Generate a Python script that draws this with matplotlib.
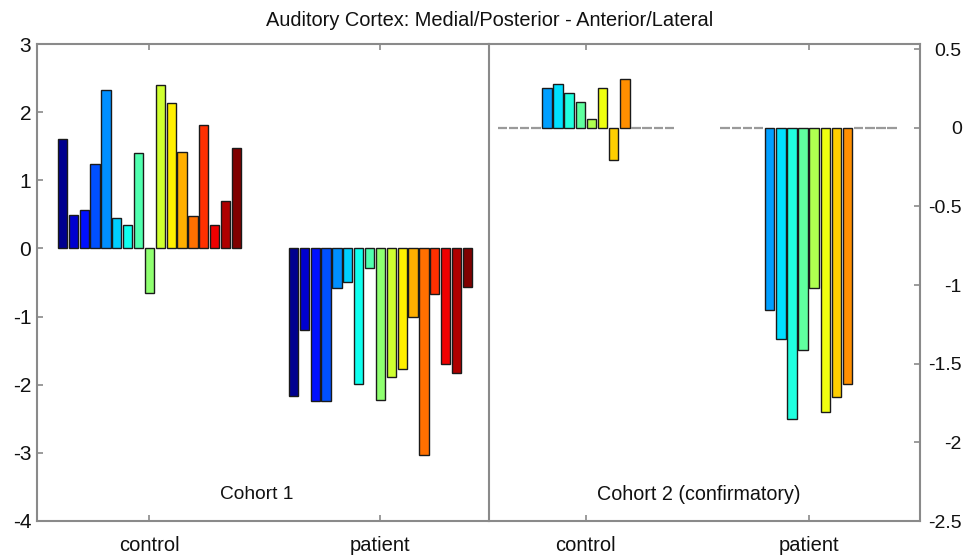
import matplotlib
matplotlib.use("Agg")
import matplotlib.pyplot as plt
import numpy as np

plt.rcParams['font.family'] = ['Liberation Sans', 'DejaVu Sans']

# ---------------- data ----------------
title = "Auditory Cortex: Medial/Posterior - Anterior/Lateral"
groups = ["control", "patient"]

cohort1_control = [1.60, 0.49, 0.57, 1.24, 2.33, 0.45, 0.34, 1.40, -0.66,
                   2.40, 2.13, 1.41, 0.48, 1.81, 0.34, 0.69, 1.48]
cohort1_patient = [-2.16, -1.19, -2.24, -2.24, -0.58, -0.49, -1.99, -0.28, -2.23,
                   -1.89, -1.77, -1.01, -3.03, -0.67, -1.69, -1.83, -0.56]

cohort2_control = [0, 0, 0, 0, 0.254, 0.28, 0.22, 0.165, 0.055, 0.25, -0.205, 0.31,
                   0, 0, 0, 0]
cohort2_patient = [0, 0, 0, 0, -1.16, -1.34, -1.85, -1.41, -1.02, -1.81, -1.71, -1.63,
                   0, 0, 0, 0]

left_ticks = [-4, -3, -2, -1, 0, 1, 2, 3]
right_ticks = [-2.5, -2, -1.5, -1, -0.5, 0, 0.5]
right_tick_labels = ["-2.5", "-2", "-1.5", "-1", "-0.5", "0", "0.5"]


# ---------------- colour map (classic 64-entry jet) ----------------
def jet_table(n=64):
    m = int(np.ceil(n / 4))
    u = np.concatenate([np.arange(1, m + 1) / m, np.ones(m - 1), np.arange(m, 0, -1) / m])
    g = int(np.ceil(m / 2)) - (1 if n % 4 == 1 else 0) + np.arange(1, len(u) + 1)
    r = g + m
    b = g - m
    J = np.zeros((n, 3))
    for col, idx in ((0, r), (1, g), (2, b)):
        ok = (idx >= 1) & (idx <= n)
        J[idx[ok] - 1, col] = u[ok]
    return J


JET = jet_table(64)


def series_color(i, n):
    k = int(np.floor(i / (n - 1) * 64))
    return tuple(JET[min(k, 63)])


# ---------------- figure ----------------
W, H = 965, 556
fig = plt.figure(figsize=(W / 100, H / 100), dpi=100)
top, bottom = 44, 521
divider = 489
axL = fig.add_axes([36.7 / W, (H - bottom) / H, (divider - 36.7) / W, (bottom - top) / H])
axR = fig.add_axes([divider / W, (H - bottom) / H, (920 - divider) / W, (bottom - top) / H])

spine_color = '#8a8a8a'
edge_color = '#1a1a1a'
text_color = '#111111'


def draw_group(ax, center, values, group_width=0.8, frac=0.85, zero_edge='#9a9a9a'):
    n = len(values)
    slot = group_width / n
    for i, v in enumerate(values):
        x = center - group_width / 2 + (i + 0.5) * slot
        color = series_color(i, n)
        if v == 0:
            ax.bar(x, v, width=slot * frac, color=color, edgecolor=zero_edge,
                   linewidth=1.6, zorder=2)
        else:
            ax.bar(x, v, width=slot * frac, color=color, edgecolor=edge_color,
                   linewidth=1.0, zorder=2)


draw_group(axL, 1, cohort1_control)
draw_group(axL, 2, cohort1_patient)
draw_group(axR, 1, cohort2_control)
draw_group(axR, 2, cohort2_patient)

axL.set_xlim(0.512, 2.47)
axL.set_ylim(-4, 3)
axR.set_xlim(0.565, 2.5)
axR.set_ylim(-2.5, 0.532)

for ax in (axL, axR):
    ax.set_xticks([1, 2])
    ax.set_xticklabels(groups, fontsize=14.5)
    for s in ax.spines.values():
        s.set_color(spine_color)
        s.set_linewidth(1.5)
    ax.tick_params(axis='x', direction='in', length=4, width=1.2, color=spine_color,
                   top=True, bottom=True, pad=11, labelcolor=text_color)

axL.spines['right'].set_visible(False)
axL.set_yticks(left_ticks)
axL.set_yticklabels([str(t) for t in left_ticks], fontsize=15)
axL.tick_params(axis='y', direction='in', length=4, width=1.2, color=spine_color,
                left=True, right=False, pad=4, labelcolor=text_color)

axR.set_yticks(right_ticks)
axR.set_yticklabels(right_tick_labels, fontsize=14)
axR.tick_params(axis='y', direction='in', length=4, width=1.2, color=spine_color,
                left=False, right=True, labelleft=False, labelright=True, pad=30,
                labelcolor=text_color)
for lab in axR.get_yticklabels():
    lab.set_horizontalalignment('right')

axL.text(0.487, 0.055, "Cohort 1", transform=axL.transAxes, ha='center', va='center',
         fontsize=13.8, color=text_color)
axR.text(0.487, 0.055, "Cohort 2 (confirmatory)", transform=axR.transAxes, ha='center',
         va='center', fontsize=14.2, color=text_color)

fig.text(490 / W, 1 - 20 / H, title, ha='center', va='center', fontsize=14.4, color=text_color)

fig.savefig("out.png", dpi=100, facecolor='white')
